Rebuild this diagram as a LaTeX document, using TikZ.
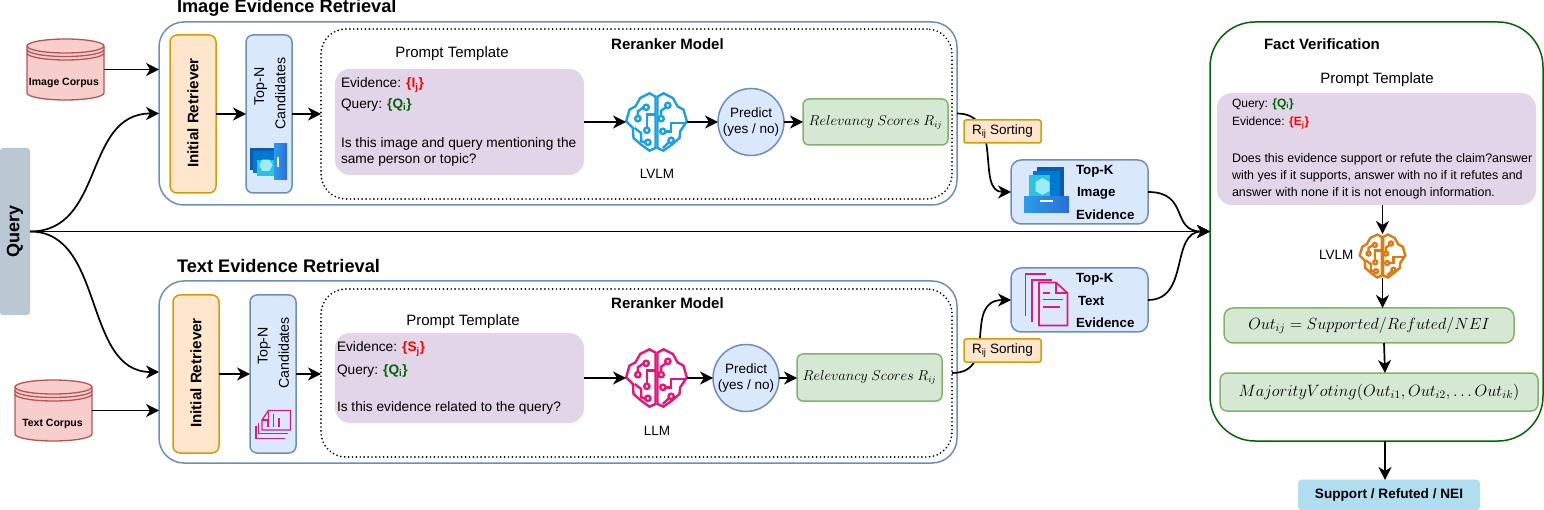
\documentclass[tikz,border=0pt]{standalone}
\usepackage{graphicx}
\usepackage{fontspec}
\setmainfont{Liberation Sans}
\usetikzlibrary{arrows.meta,calc,shapes.geometric}
\definecolor{bluefill}{HTML}{DAE8FC}
\definecolor{bluestroke}{HTML}{6C8EBF}
\definecolor{orfill}{HTML}{FFE6CC}
\definecolor{orstroke}{HTML}{D79B00}
\definecolor{grfill}{HTML}{D5E8D4}
\definecolor{grstroke}{HTML}{82B366}
\definecolor{refill}{HTML}{F8CECC}
\definecolor{restroke}{HTML}{B85450}
\definecolor{pufill}{HTML}{E1D5E7}
\definecolor{qfill}{HTML}{BAC8D3}
\definecolor{finalfill}{HTML}{B1DDF0}
\definecolor{factgreen}{HTML}{006600}
\definecolor{evred}{HTML}{FF0000}
\definecolor{brainblue}{HTML}{1BA1E2}
\definecolor{brainpink}{HTML}{E7157B}
\definecolor{brainor}{HTML}{E07A10}
\definecolor{icdark}{HTML}{0B5CAD}
\definecolor{icmid}{HTML}{0078D4}
\definecolor{iccyan}{HTML}{2CC3DC}
\definecolor{iclight}{HTML}{9CEBF5}
\definecolor{ictrayl}{HTML}{2D9BEA}
\definecolor{ictrayr}{HTML}{2A6FD8}
\newcommand{\fsz}[1]{\fontsize{#1}{#1}\selectfont}
\newcommand{\evr}[1]{\textcolor{evred}{\textbf{\{#1\textsubscript{j}\}}}}
\newcommand{\qgr}{\textcolor{factgreen}{\textbf{\{Q\textsubscript{i}\}}}}
\newcommand{\braindraw}[4]{% name, x, y, colour
  \begin{scope}[shift={(#2,#3)},scale=1/3,draw=#4,line width=2.4pt,line join=miter]
    \draw (-3,-76) -- (-21,-86) -- (-49,-72) -- (-63,-47) -- (-81,-37) -- (-91,-2) -- (-71,18) -- (-69,48) -- (-46,68) -- (-21,86) -- (-3,78) -- cycle;
    \draw (3,-76) -- (21,-86) -- (49,-72) -- (63,-47) -- (81,-37) -- (91,-2) -- (71,28) -- (69,48) -- (46,68) -- (21,86) -- (3,78) -- cycle;
    \draw (-31,-44) circle[radius=8];
    \draw (-39,-44) -- (-56,-32) -- (-56,-18);
    \draw (-56,-10) circle[radius=8];
    \draw (-3,-22) -- (-29,-22) -- (-29,17);
    \draw (-29,25) circle[radius=8];
    \draw (-66,18) -- (-46,33) -- (-46,58) -- (-34,61);
    \draw (-26,61) circle[radius=8];
    \draw (34,-50) circle[radius=8];
    \draw (28,-44) -- (14,-34) -- (14,-18);
    \draw (14,-10) circle[radius=8];
    \draw (19,28) circle[radius=8];
    \draw (27,28) -- (44,28) -- (44,3) -- (91,3);
    \draw (44,55) circle[radius=8];
    \draw (38,60) -- (19,78);
  \end{scope}
  \node[minimum width=61pt,minimum height=59pt,inner sep=0pt,outer sep=0pt] (#1) at (#2,#3) {};
}
\newcommand{\imgicon}[4]{% x, y, scale, rotation
  \begin{scope}[shift={(#1,#2)},rotate=#4,scale=#3]
    \fill[icdark] (-9.5,-23) rectangle (17.5,7);
    \fill[icmid] (-13.5,-19) rectangle (13.5,7);
    \fill[iccyan] (-17.5,-15) rectangle (3,7);
    \shade[left color=ictrayl,right color=ictrayr] (-22.5,7) rectangle (22.5,23);
    \fill[white] (-6.5,10.5) rectangle (6.5,12.5);
    \fill[iclight] (-4,-12) -- (3,-8) -- (3,1) -- (-4,5) -- (-11,1) -- (-11,-8) -- cycle;
  \end{scope}
}
\newcommand{\corpusdraw}[1]{% horizontal shift
  \begin{scope}[xshift=#1pt]
  \draw[draw=restroke,fill=refill,line width=1.3pt] (27,46) arc[start angle=180,end angle=0,x radius=38.5pt,y radius=7pt] -- (104,93) arc[start angle=0,end angle=-180,x radius=38.5pt,y radius=7pt] -- cycle;
  \draw[draw=restroke,line width=1.3pt] (27,46) arc[start angle=180,end angle=360,x radius=38.5pt,y radius=7pt];
  \draw[draw=restroke,line width=1.3pt] (27,49.5) arc[start angle=180,end angle=360,x radius=38.5pt,y radius=7pt];
  \draw[draw=restroke,line width=1.3pt] (27,53) arc[start angle=180,end angle=360,x radius=38.5pt,y radius=7pt];
  \end{scope}
}
\tikzset{
  x=1pt,y=-1pt,
  >={Stealth[length=13pt,width=13pt,inset=4pt]},
  every node/.style={inner sep=0pt,outer sep=0pt},
  conn/.style={->,line width=1.7pt,draw=black},
  boxbase/.style={rectangle,draw,line width=1.5pt,align=center},
  container/.style={boxbase,draw=bluestroke,rounded corners=25pt},
  dottedbox/.style={rectangle,draw=black,line width=1.9pt,line cap=round,dash pattern=on 0pt off 3.9pt,rounded corners=25pt},
  retriever/.style={boxbase,fill=orfill,draw=orstroke,rounded corners=7pt,minimum width=46pt,minimum height=158pt},
  topn/.style={boxbase,fill=bluefill,draw=bluestroke,rounded corners=7pt,minimum width=46pt,minimum height=158pt},
  prompt/.style={rectangle,fill=pufill,rounded corners=15pt},
  scorebox/.style={boxbase,fill=grfill,draw=grstroke,rounded corners=6pt},
  predict/.style={ellipse,draw=bluestroke,fill=bluefill,line width=1.5pt,inner sep=-8pt,minimum width=66pt,minimum height=67pt,align=center},
  sorting/.style={boxbase,fill=orfill,draw=orstroke,rounded corners=2pt,minimum width=77pt,minimum height=23pt},
  topk/.style={boxbase,fill=bluefill,draw=bluestroke,rounded corners=10pt,minimum width=137pt,minimum height=64pt},
  title/.style={anchor=west,font=\fsz{18.2}\bfseries},
  heading/.style={font=\fsz{15}\bfseries},
  body/.style={anchor=west,align=left,font=\fsz{13.7}},
  small/.style={font=\fsz{13.5}},
  topklabel/.style={anchor=west,font=\fsz{13.3}\bfseries},
}
\begin{document}
\begin{tikzpicture}
\useasboundingbox (0,0) rectangle (1544,510);
% containers
\node[container,minimum width=798pt,minimum height=183pt] (imgbox) at (558,113.5) {};
\node[container,minimum width=798pt,minimum height=182pt] (txtbox) at (558,372) {};
\node[dottedbox,minimum width=631pt,minimum height=170pt] (imgdot) at (636.5,114) {};
\node[dottedbox,minimum width=631pt,minimum height=168pt] (txtdot) at (636.5,373) {};
\node[boxbase,draw=factgreen,rounded corners=45pt,minimum width=333pt,minimum height=419pt] (fact) at (1376.5,231.5) {};
% query
\node[rectangle,fill=qfill,rounded corners=3pt,minimum width=30pt,minimum height=167pt] (query) at (15,231.5) {};
\node[rotate=90,font=\fsz{18}\bfseries] (querytxt) at (15,231.5) {Query};
% titles
\node[title] (imgtitle) at (177,8) {Image Evidence Retrieval};
\node[title] (txttitle) at (177,265.5) {Text Evidence Retrieval};
\node[heading] (imgrerank) at (667.5,44) {Reranker Model};
\node[heading] (txtrerank) at (667.5,303) {Reranker Model};
\node[heading,anchor=west] (facttitle) at (1264,44) {Fact Verification};
% corpora
\corpusdraw{0}
\node[minimum width=77pt,minimum height=61pt] (imgcorpus) at (65.5,69.5) {};
\node[font=\fsz{10.5}\bfseries] (imgcorpustxt) at (64,82.5) {Image Corpus};
\begin{scope}[yshift=-341pt]
\corpusdraw{-12}
\end{scope}
\node[minimum width=77pt,minimum height=61pt] (txtcorpus) at (53,410.5) {};
\node[font=\fsz{10.5}\bfseries] (txtcorpustxt) at (52.5,423.5) {Text Corpus};
% image row
\node[retriever] (imgret) at (193,114) {};
\node[rotate=90,font=\fsz{15.2}\bfseries] (imgrettxt) at (193,113) {Initial Retriever};
\node[topn] (imgtop) at (269,114) {};
\node[rotate=90,align=center,font=\fsz{14.2},inner sep=0pt] (imgtoptxt) at (270,93.5) {\hspace*{14pt}Top-N\\[7pt]Candidates};
\imgicon{268.6}{162}{0.8}{90}
\node[font=\fsz{15}] (imgpt) at (452,53.5) {Prompt Template};
\node[prompt,minimum width=249pt,minimum height=106pt] (imgprompt) at (459.5,122) {};
\node[body] (imgev) at (341,85) {Evidence: \evr{I}};
\node[body] (imgq) at (341,105) {Query: \qgr};
\node[body,align=left] (imgtxt) at (341,152) {Is this image and query mentioning the\\[3pt]same person or topic?};
\braindraw{imgbrain}{656.5}{122}{brainblue}
\node[small] (imglvlm) at (657,174) {LVLM};
\node[predict] (imgpred) at (751,122) {\fsz{13.5}Predict\\[3.5pt]\fsz{13.5}(yes / no)};
\node[scorebox,minimum width=145pt,minimum height=46pt] (imgscore) at (875.5,122) {\fsz{13.5}$Relevancy\ Scores\ R_{ij}$};
% text row
\node[retriever] (txtret) at (196,374) {};
\node[rotate=90,font=\fsz{15.2}\bfseries] (txtrettxt) at (196,373) {Initial Retriever};
\node[topn] (txttop) at (273,374) {};
\node[rotate=90,align=center,font=\fsz{14.2}] (txttoptxt) at (273.5,353) {\hspace*{14pt}Top-N\\[7pt]Candidates};
\node[font=\fsz{15}] (txtpt) at (463,321.5) {Prompt Template};
\node[prompt,minimum width=249pt,minimum height=90pt] (txtprompt) at (459.5,378) {};
\node[body] (txtev) at (337,349) {Evidence: \evr{S}};
\node[body] (txtq) at (337,371) {Query: \qgr};
\node[body] (txtq2) at (337,407.5) {Is this evidence related to the query?};
\braindraw{txtbrain}{656.5}{378}{brainpink}
\node[small] (txtllm) at (657,431) {LLM};
\node[predict] (txtpred) at (746,378) {\fsz{13.5}Predict\\[3.5pt]\fsz{13.5}(yes / no)};
\node[scorebox,minimum width=145pt,minimum height=47pt] (txtscore) at (869.5,377.5) {\fsz{13.5}$Relevancy\ Scores\ R_{ij}$};
% top-n text icon
\begin{scope}[draw=brainpink,line width=1.3pt]
\draw (268.5,410.5) -- (290.5,410.5) -- (290.5,430) -- (262,430) -- (262,420) -- cycle;
\draw (268.5,410.5) -- (268.5,420) -- (262,420);
\draw (258.7,423) -- (258.7,433.5) -- (287.5,433.5);
\draw (256,426) -- (256,438.5) -- (285,438.5);
\draw (268,421) -- (268,427);
\draw (273.5,414) -- (273.5,427);
\draw (279,418) -- (279,427);
\end{scope}
% top-k
\node[topk] (imgk) at (1079.5,192) {};
\imgicon{1046.5}{190}{1}{0}
\node[topklabel] (imgk1) at (1076,171) {Top-K};
\node[topklabel] (imgk2) at (1077,193) {Image};
\node[topklabel] (imgk3) at (1076,215) {Evidence};
\node[topk] (txtk) at (1079.5,300) {};
\begin{scope}[draw=brainpink,line width=1.7pt]
\draw (1046,274) -- (1025.5,274) -- (1025.5,316);
\draw (1052,280) -- (1032,280) -- (1032,322);
\draw[fill=bluefill] (1039,282.5) -- (1056,282.5) -- (1067.5,293) -- (1067.5,325.5) -- (1039,325.5) -- cycle;
\draw (1056,282.5) -- (1056,293) -- (1067.5,293);
\draw (1042.5,293) -- (1050,293);
\draw (1042.5,299.5) -- (1063,299.5);
\draw (1042.5,307) -- (1059.5,307);
\end{scope}
\node[topklabel] (txtk1) at (1076,279) {Top-K};
\node[topklabel] (txtk2) at (1078,301) {Text};
\node[topklabel] (txtk3) at (1076,323) {Evidence};
% fact verification
\node[font=\fsz{15}] (factpt) at (1377,79.5) {Prompt Template};
\node[prompt,minimum width=319pt,minimum height=112pt] (factprompt) at (1376.5,149) {};
\node[anchor=west,font=\fsz{12}] (factq) at (1232,104) {Query: \qgr};
\node[anchor=west,font=\fsz{12}] (factev) at (1232,123) {Evidence: \evr{E}};
\node[anchor=west,align=left,font=\fsz{12.45}] (facttxt) at (1232,176) {Does this evidence support or refute the claim?answer\\[4.5pt]with yes if it supports, answer with no if it refutes and\\[4.5pt]answer with none if it is not enough information.};
\begin{scope}[shift={(1382.5,256)},scale=0.75]
\braindraw{fbrainscaled}{0}{0}{brainor}
\end{scope}
\node[minimum width=45pt,minimum height=44pt] (fbrain) at (1382.5,256) {};
\node[small,anchor=west] (factlvlm) at (1319,255) {LVLM};
\node[scorebox,rounded corners=9pt,minimum width=290pt,minimum height=35pt] (out) at (1369,325.5) {\fsz{14.4}\scalebox{1.126}{$Out_{ij} = Supported/Refuted/NEI$}};
\node[scorebox,rounded corners=7pt,minimum width=318pt,minimum height=38pt] (vote) at (1379,392) {\fsz{14.4}\scalebox{1.139}{$MajorityVoting(Out_{i1},Out_{i2},\ldots Out_{ik})$}};
\node[rectangle,fill=finalfill,rounded corners=4pt,minimum width=182pt,minimum height=31pt,font=\fsz{13.6}\bfseries] (final) at (1389,495) {Support / Refuted / NEI};
% connectors
\draw[conn] (imgcorpus.east) -- (imgcorpus.east -| imgbox.west);
\draw[conn] (txtcorpus.east) -- (txtcorpus.east -| txtbox.west);
\draw[conn] (query.east) -- (fact.west);
\draw[conn] (query.east) .. controls (105,231.5) and (83,113.5) .. (imgbox.west);
\draw[conn] (query.east) .. controls (105,231.5) and (83,372) .. (txtbox.west);
\draw[conn] (imgret.east) -- (imgtop.west);
\draw[conn] (imgtop.east) -- (imgdot.west);
\draw[conn] (txtret.east) -- (txttop.west);
\draw[conn] (txttop.east) -- (txttop.east -| txtdot.west);
\draw[conn] (imgprompt.east) -- (imgbrain.west);
\draw[conn] (imgbrain.east) -- (imgpred.west);
\draw[conn] (imgpred.east) -- (imgscore.west);
\draw[conn] (txtprompt.east) -- (txtbrain.west);
\draw[conn] (txtbrain.east) -- (txtpred.west);
\draw[conn] (txtpred.east) -- (txtpred.east -| txtscore.west);
\draw[conn] (imgbox.east) .. controls (1005,113.5) and (975,192) .. (imgk.west);
\draw[conn] (txtdot.east) .. controls (1000,373) and (962,300) .. (txtk.west);
\draw[conn] (imgk.east) .. controls (1190,192) and (1170,231.5) .. (fact.west);
\draw[conn] (txtk.east) .. controls (1190,300) and (1170,231.5) .. (fact.west);
\coordinate (p1) at (1382.5,205);
\coordinate (a1) at (1384,343);
\coordinate (a2) at (1385,373);
\coordinate (a3) at (1385,441);
\coordinate (a4) at (1385,480);
\draw[conn] (p1) -- (fbrain.north);
\draw[conn] (fbrain.south) -- (fbrain.south |- out.north);
\draw[conn] (a1) -- (a2);
\draw[conn] (a3) -- (a4);
% sorting labels on top of curves
\node[sorting] (imgsort) at (1002.5,131.5) {\fsz{13.5}R\textsubscript{ij} Sorting};
\node[sorting] (txtsort) at (1002.5,350.5) {\fsz{13.5}R\textsubscript{ij} Sorting};
\end{tikzpicture}
\end{document}
